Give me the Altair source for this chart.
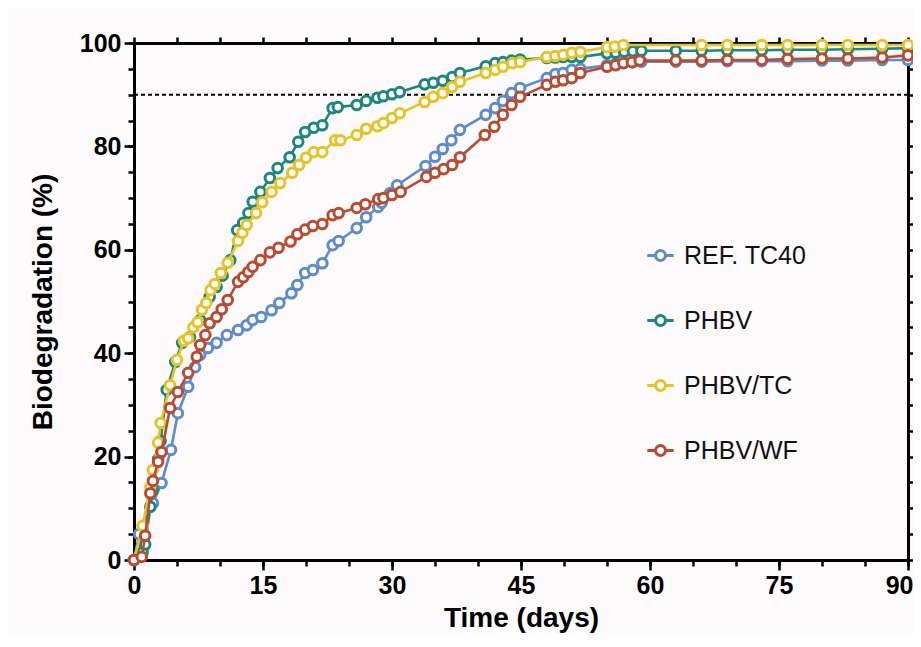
import altair as alt
import pandas as pd

# ---------------- data ----------------
series_names = ["REF. TC40", "PHBV", "PHBV/TC", "PHBV/WF"]
series_colors = ["#5f8cc8", "#1e877d", "#e6c328", "#b94b32"]

ref_days = [0, 0.6, 2.2, 3.2, 4.3, 5.1, 6.3, 7.1, 7.7, 8.6, 9.6, 10.8, 12.1, 13.1, 13.8,
            14.8, 16.0, 16.9, 18.3, 19.0, 19.9, 20.8, 21.9, 23.1, 23.8, 25.9, 27.0, 28.4,
            28.8, 29.8, 30.6, 33.9, 35.0, 35.9, 36.9, 37.9, 40.9, 42.0, 42.9, 43.9, 44.9,
            48.0, 49.0, 49.9, 50.9, 51.9, 55.0, 56.0, 57.0, 58.0, 59.0, 63, 66, 69, 73,
            76, 80, 83, 87, 90]
ref_pct = [0, 5.0, 11.0, 14.9, 21.3, 28.4, 33.5, 37.3, 39.7, 41.0, 42.0, 43.5, 44.5, 45.4,
           46.4, 47.0, 48.3, 49.7, 51.6, 53.2, 55.5, 56.1, 57.4, 60.9, 61.7, 64.2, 66.3,
           68.3, 69.1, 71.0, 72.5, 76.2, 78.0, 79.5, 81.2, 83.2, 86.1, 87.4, 88.8, 90.3,
           91.3, 93.2, 94.0, 94.2, 94.8, 95.0, 95.7, 96.0, 96.2, 96.3, 96.4, 96.4, 96.4,
           96.5, 96.5, 96.5, 96.6, 96.6, 96.7, 96.7]

phbv_days = [0, 1.0, 1.3, 1.9, 2.2, 2.8, 3.1, 3.8, 4.8, 5.6, 6.5, 7.7, 8.8, 9.6, 10.3,
             11.2, 12.0, 12.7, 13.3, 13.8, 14.7, 15.8, 16.7, 18.1, 19.1, 19.9, 20.9, 21.9,
             23.1, 23.7, 25.9, 27.0, 28.3, 29.0, 30.0, 30.9, 33.8, 34.8, 35.9, 37.0, 37.9,
             40.9, 42.0, 42.9, 43.9, 44.9, 48.0, 49.0, 49.9, 50.9, 51.9, 55.0, 56.0, 57.0,
             58.0, 59.0, 63, 66, 69, 73, 76, 80, 83, 87, 90]
phbv_pct = [0, 1.5, 3.0, 10.3, 13.5, 19.5, 23.0, 32.9, 38.3, 42.0, 43.1, 46.4, 50.9, 52.8,
            55.0, 58.0, 63.8, 65.2, 67.1, 69.3, 71.2, 73.9, 75.8, 77.9, 80.9, 82.8, 83.6,
            84.1, 87.4, 87.6, 88.0, 88.8, 89.4, 89.7, 90.1, 90.5, 92.0, 92.3, 92.7, 93.4,
            94.2, 95.5, 96.1, 96.3, 96.6, 96.8, 97.1, 97.2, 97.3, 97.3, 97.3, 98.0, 98.1,
            98.3, 98.4, 98.5, 98.5, 98.5, 98.6, 98.6, 98.7, 98.7, 98.8, 98.9, 99.0]

tc_days = [0, 1.0, 1.9, 2.2, 2.8, 3.1, 4.2, 5.0, 5.8, 6.3, 6.9, 7.4, 7.9, 8.4, 8.9, 9.4,
           10.1, 10.9, 12.1, 12.6, 13.1, 14.2, 14.9, 16.0, 17.0, 18.4, 19.2, 20.0, 20.9,
           21.9, 23.4, 24.0, 25.9, 27.0, 28.3, 29.0, 30.0, 30.9, 33.8, 34.8, 35.9, 37.0,
           37.9, 40.9, 42.0, 42.9, 44.0, 44.9, 48.0, 49.0, 49.9, 50.9, 51.9, 55.0, 55.9,
           56.9, 66, 69, 73, 76, 80, 83, 87, 90]
tc_pct = [0, 6.6, 14.1, 17.4, 22.7, 26.5, 33.8, 38.7, 42.4, 42.9, 45.0, 46.0, 48.4, 49.7,
          52.2, 53.4, 55.5, 57.5, 61.7, 63.3, 64.8, 67.1, 69.2, 71.2, 72.9, 74.9, 76.4,
          77.8, 78.9, 78.9, 81.2, 81.2, 82.2, 83.4, 83.9, 84.5, 85.5, 86.4, 88.6, 89.6,
          90.3, 91.5, 92.5, 94.2, 94.8, 95.4, 96.1, 96.3, 97.3, 97.5, 97.7, 98.1, 98.3,
          99.2, 99.3, 99.6, 99.6, 99.6, 99.6, 99.6, 99.6, 99.6, 99.6, 99.6]

wf_days = [0, 0.9, 1.3, 1.9, 2.2, 2.8, 3.2, 4.2, 5.1, 6.3, 7.3, 7.7, 8.3, 8.8, 9.6, 10.2,
           10.9, 12.1, 12.7, 13.3, 13.8, 14.7, 15.8, 16.8, 18.2, 19.0, 19.9, 20.8, 21.9,
           23.1, 23.8, 25.9, 26.9, 28.4, 29.0, 30.0, 31.0, 34.0, 35.0, 36.0, 37.0, 37.9,
           40.8, 41.9, 42.9, 43.9, 44.9, 48.0, 49.0, 49.9, 50.9, 51.9, 55.0, 56.0, 56.9,
           57.9, 58.8, 63, 66, 69, 73, 76, 80, 83, 87, 90]
wf_pct = [0, 0.6, 4.7, 12.9, 15.3, 19.0, 20.9, 29.4, 32.5, 36.2, 39.3, 41.6, 43.5, 45.8,
          47.0, 48.5, 50.3, 53.8, 54.7, 55.7, 56.7, 58.0, 59.5, 60.4, 61.6, 63.0, 63.9,
          64.6, 65.0, 66.7, 67.1, 68.1, 68.8, 69.8, 70.0, 70.6, 71.2, 74.1, 74.9, 75.6,
          76.4, 77.9, 82.2, 83.8, 86.1, 88.0, 89.6, 91.9, 92.5, 92.8, 93.2, 94.2, 95.4,
          95.7, 96.1, 96.3, 96.6, 96.6, 96.6, 96.7, 96.7, 96.9, 97.0, 97.0, 97.2, 97.6]

threshold = [90]
x_major_ticks = [0, 15, 30, 45, 60, 75]
x_last_tick = [90]
x_minor_ticks = list(range(0, 91, 5))
y_major_ticks = [0, 20, 40, 60, 80, 100]
y_minor_ticks = list(range(0, 101, 5))

all_days = [ref_days, phbv_days, tc_days, wf_days]
all_pct = [ref_pct, phbv_pct, tc_pct, wf_pct]

# ---------------- chart ----------------
FONT = "Liberation Sans, Arial, Helvetica, sans-serif"

xs = alt.Scale(domain=[0, 90], nice=False, zero=False)
ys = alt.Scale(domain=[0, 100], nice=False, zero=False)
cs = alt.Scale(domain=series_names, range=series_colors)

LEG_PATH = ("M-1.65,0H-0.62M0.62,0H1.65M0.62,0A0.62,0.62,0,1,1,-0.62,0"
            "A0.62,0.62,0,1,1,0.62,0Z")
legend = alt.Legend(title=None, orient="none", legendX=514, legendY=200,
                    symbolType=LEG_PATH, symbolSize=256, symbolStrokeWidth=3,
                    symbolFillColor="white", labelFont=FONT, labelFontSize=25,
                    labelColor="#111111", labelOffset=11, rowPadding=39, padding=0,
                    labelLimit=400)

frames = []
for name, d, p in zip(series_names, all_days, all_pct):
    frames.append(pd.DataFrame({"day": d, "pct": p, "series": name}))

layers = []
rule_df = pd.DataFrame({"y": threshold})
layers.append(
    alt.Chart(rule_df).mark_rule(color="black", strokeWidth=2, strokeDash=[4, 3]).encode(
        y=alt.Y("y:Q", scale=ys, axis=None)
    )
)

for df in frames:
    base = alt.Chart(df).encode(
        x=alt.X("day:Q", scale=xs, axis=None),
        y=alt.Y("pct:Q", scale=ys, axis=None),
        color=alt.Color("series:N", scale=cs, legend=legend),
    )
    layers.append(base.mark_line(strokeWidth=2.6))
    layers.append(base.mark_point(shape="circle", size=92, filled=False, fill="white",
                                  strokeWidth=3, opacity=1))

axis_common = dict(domainColor="black", domainWidth=3, tickColor="black", tickWidth=2.5,
                   grid=False, labelColor="black", titleColor="black")
label_common = dict(labelFont=FONT, labelFontSize=25, labelFontWeight="bold",
                    labelOverlap=False, labelBound=False)

axis_defs = [
    ("x", alt.Axis(orient="bottom", values=x_minor_ticks, tickSize=6, labels=False,
                   title=None, **axis_common)),
    ("x", alt.Axis(orient="top", values=x_minor_ticks, tickSize=6, labels=False,
                   title=None, **axis_common)),
    ("x", alt.Axis(orient="bottom", values=x_last_tick, tickSize=10, labelPadding=3,
                   labelFlush=True, labelFlushOffset=5, title=None,
                   **label_common, **axis_common)),
    ("x", alt.Axis(orient="bottom", values=x_major_ticks, tickSize=10, labelPadding=3,
                   labelFlush=False,
                   title="Time (days)", titleFont=FONT, titleFontSize=28,
                   titleFontWeight="bold", titlePadding=6,
                   **label_common, **axis_common)),
    ("y", alt.Axis(orient="right", values=y_minor_ticks, tickSize=6, labels=False,
                   title=None, **axis_common)),
    ("y", alt.Axis(orient="left", values=y_minor_ticks, tickSize=6, labels=False,
                   title=None, **axis_common)),
    ("y", alt.Axis(orient="left", values=y_major_ticks, tickSize=10, labelPadding=3,
                   labelFlush=False,
                   title="Biodegradation (%)", titleFont=FONT, titleFontSize=28,
                   titleFontWeight="bold", titlePadding=22,
                   **label_common, **axis_common)),
]

for ch, ax in axis_defs:
    if ch == "x":
        enc = dict(x=alt.X("day:Q", scale=xs, axis=ax), y=alt.Y("pct:Q", scale=ys, axis=None))
    else:
        enc = dict(x=alt.X("day:Q", scale=xs, axis=None), y=alt.Y("pct:Q", scale=ys, axis=ax))
    layers.append(alt.Chart(frames[0]).mark_point(opacity=0).encode(**enc))

chart = alt.layer(*layers).resolve_axis(x="independent", y="independent").properties(
    width=774, height=517,
    autosize=alt.AutoSizeParams(type="none"),
    padding={"left": 126, "top": 35, "right": 5, "bottom": 73},
    background="#fcfafa",
).configure_view(stroke=None)

chart.save("out.html", embed_options={"renderer": "svg", "actions": False})
